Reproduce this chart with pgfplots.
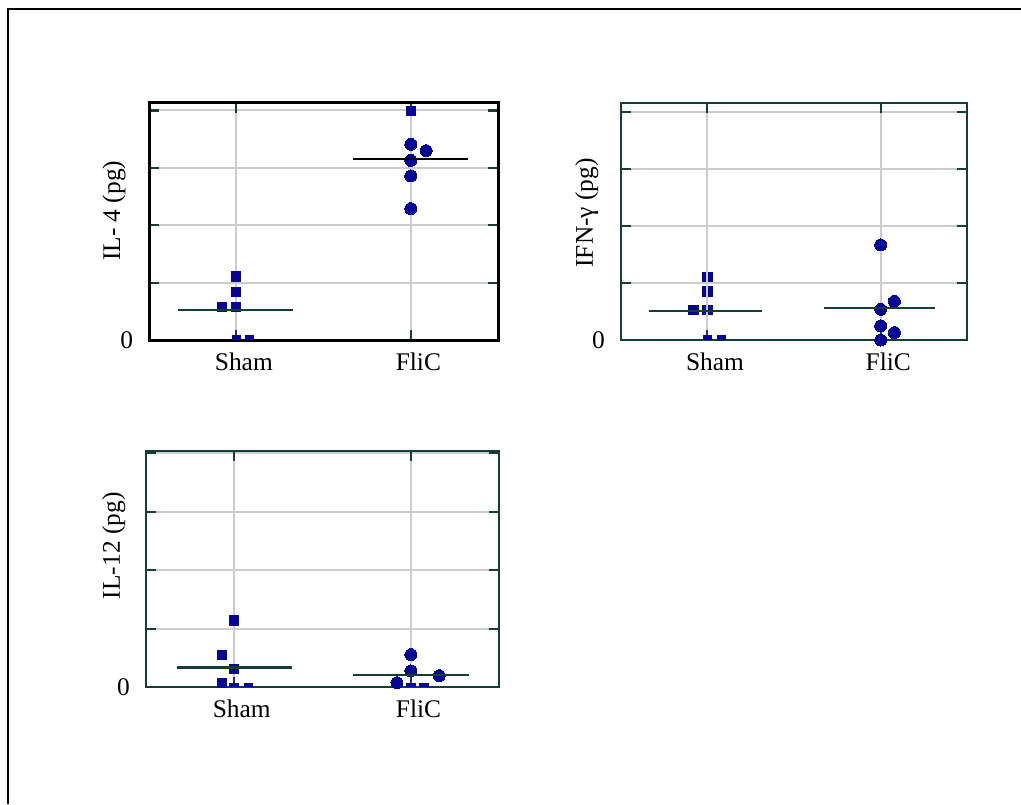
\documentclass[border=0pt]{standalone}
\usepackage{fontspec}
\setmainfont{Liberation Serif}
\usepackage{pgfplots}
\pgfplotsset{compat=1.18}
\definecolor{mk}{RGB}{6,6,150}
\definecolor{dkteal}{RGB}{22,62,56}
\definecolor{gr}{RGB}{204,204,204}
\pgfdeclareplotmark{halfsq}{%
  \pgfpathrectangle{\pgfpoint{-\pgfplotmarksize}{0pt}}{\pgfpoint{2\pgfplotmarksize}{\pgfplotmarksize}}%
  \pgfusepathqfill}
\pgfplotsset{
  panel/.style={
    scale only axis, anchor=south west,
    clip=false, clip marker paths=true,
    xmin=0.5, xmax=2.5, ymin=0,
    xtick={1,2}, xticklabels={Sham,FliC},
    ytick={0,1,2,3,4}, yticklabels={0,,,,},
    tick align=inside, xtick pos=both, ytick pos=both,
    major tick length=5pt,
    major tick style={dkteal, line width=1.1pt},
    grid=major, major grid style={gr, line width=1pt},
    axis line style={dkteal, line width=1.1pt},
    font=\fontsize{12.7}{15}\selectfont,
    /pgf/number format/assume math mode=true,
    xticklabel style={anchor=base, yshift=-15pt, xshift=3.8pt, inner sep=0pt},
    yticklabel style={anchor=east, xshift=-7.8pt, inner sep=0pt},
  },
  sq/.style={only marks, mark=square*, mark size=2.35pt, mark options={fill=mk, draw=mk, line width=0pt}},
  hsq/.style={only marks, mark=halfsq, mark size=2.35pt, mark options={fill=mk, draw=none}, mk},
  ci/.style={only marks, mark=*, mark size=3pt, mark options={fill=mk, draw=mk, line width=0pt}},
  med/.style={dkteal, line width=1.1pt},
}
\begin{document}
\begin{tikzpicture}
\useasboundingbox (0,0) rectangle (510.5pt,402pt);
\draw[line width=1.1pt] (4.15pt,0pt) -- (4.15pt,397.5pt) -- (510.5pt,397.5pt);

% Panel 1: IL-4
\begin{axis}[panel, at={(74.5pt,232pt)}, width=174.5pt, height=118.5pt, ymax=4.13,
  axis line style={black, line width=1.5pt},
  ylabel={IL- 4 (pg)},
  ylabel style={at={(axis description cs:-0.1003,0.545)}, anchor=center, rotate=0}]
\addplot[sq] coordinates {(1,1.11) (1,0.84) (1,0.57) (0.92,0.57) (2,3.99)};
\addplot[hsq] coordinates {(1,0) (1.077,0)};
\addplot[ci] coordinates {(2,3.41) (2.088,3.30) (2,3.13) (2,2.86) (2,2.29)};
\addplot[med] coordinates {(0.666,0.52) (1.323,0.52)};
\addplot[black, line width=1.1pt] coordinates {(1.671,3.15) (2.326,3.15)};
\end{axis}

% Panel 2: IFN-gamma
\begin{axis}[panel, at={(310.35pt,232pt)}, width=173.3pt, height=118.35pt, ymax=4.16,
  ylabel={IFN-γ (pg)},
  ylabel style={at={(axis description cs:-0.0981,0.537)}, anchor=center, rotate=0}]
\addplot[sq] coordinates {(1,1.11) (1,0.85) (1,0.53) (0.921,0.53)};
\addplot[hsq] coordinates {(1,0) (1.081,0)};
\addplot[ci] coordinates {(2,1.67) (2.079,0.68) (2,0.54) (2,0.25) (2.079,0.13) (2,0)};
\addplot[gr, line width=1pt] coordinates {(1,0.3) (1,1.3)};
\addplot[med] coordinates {(0.665,0.51) (1.317,0.51)};
\addplot[med] coordinates {(1.675,0.56) (2.314,0.56)};
\end{axis}

% Panel 3: IL-12
\begin{axis}[panel, at={(72.85pt,58.35pt)}, width=176.8pt, height=118.15pt, ymax=4.04,
  ylabel={IL-12 (pg)},
  ylabel style={at={(axis description cs:-0.0899,0.599)}, anchor=center, rotate=0}]
\addplot[sq] coordinates {(1,1.14) (0.932,0.55) (1,0.31) (0.932,0.07)};
\addplot[hsq] coordinates {(1,0) (1.083,0) (2,0) (2.075,0)};
\addplot[ci] coordinates {(2,0.56) (2,0.28) (2.16,0.2) (1.921,0.08)};
\addplot[med] coordinates {(0.675,0.34) (1.329,0.34)};
\addplot[med] coordinates {(1.674,0.205) (2.329,0.205)};
\end{axis}
\end{tikzpicture}
\end{document}
